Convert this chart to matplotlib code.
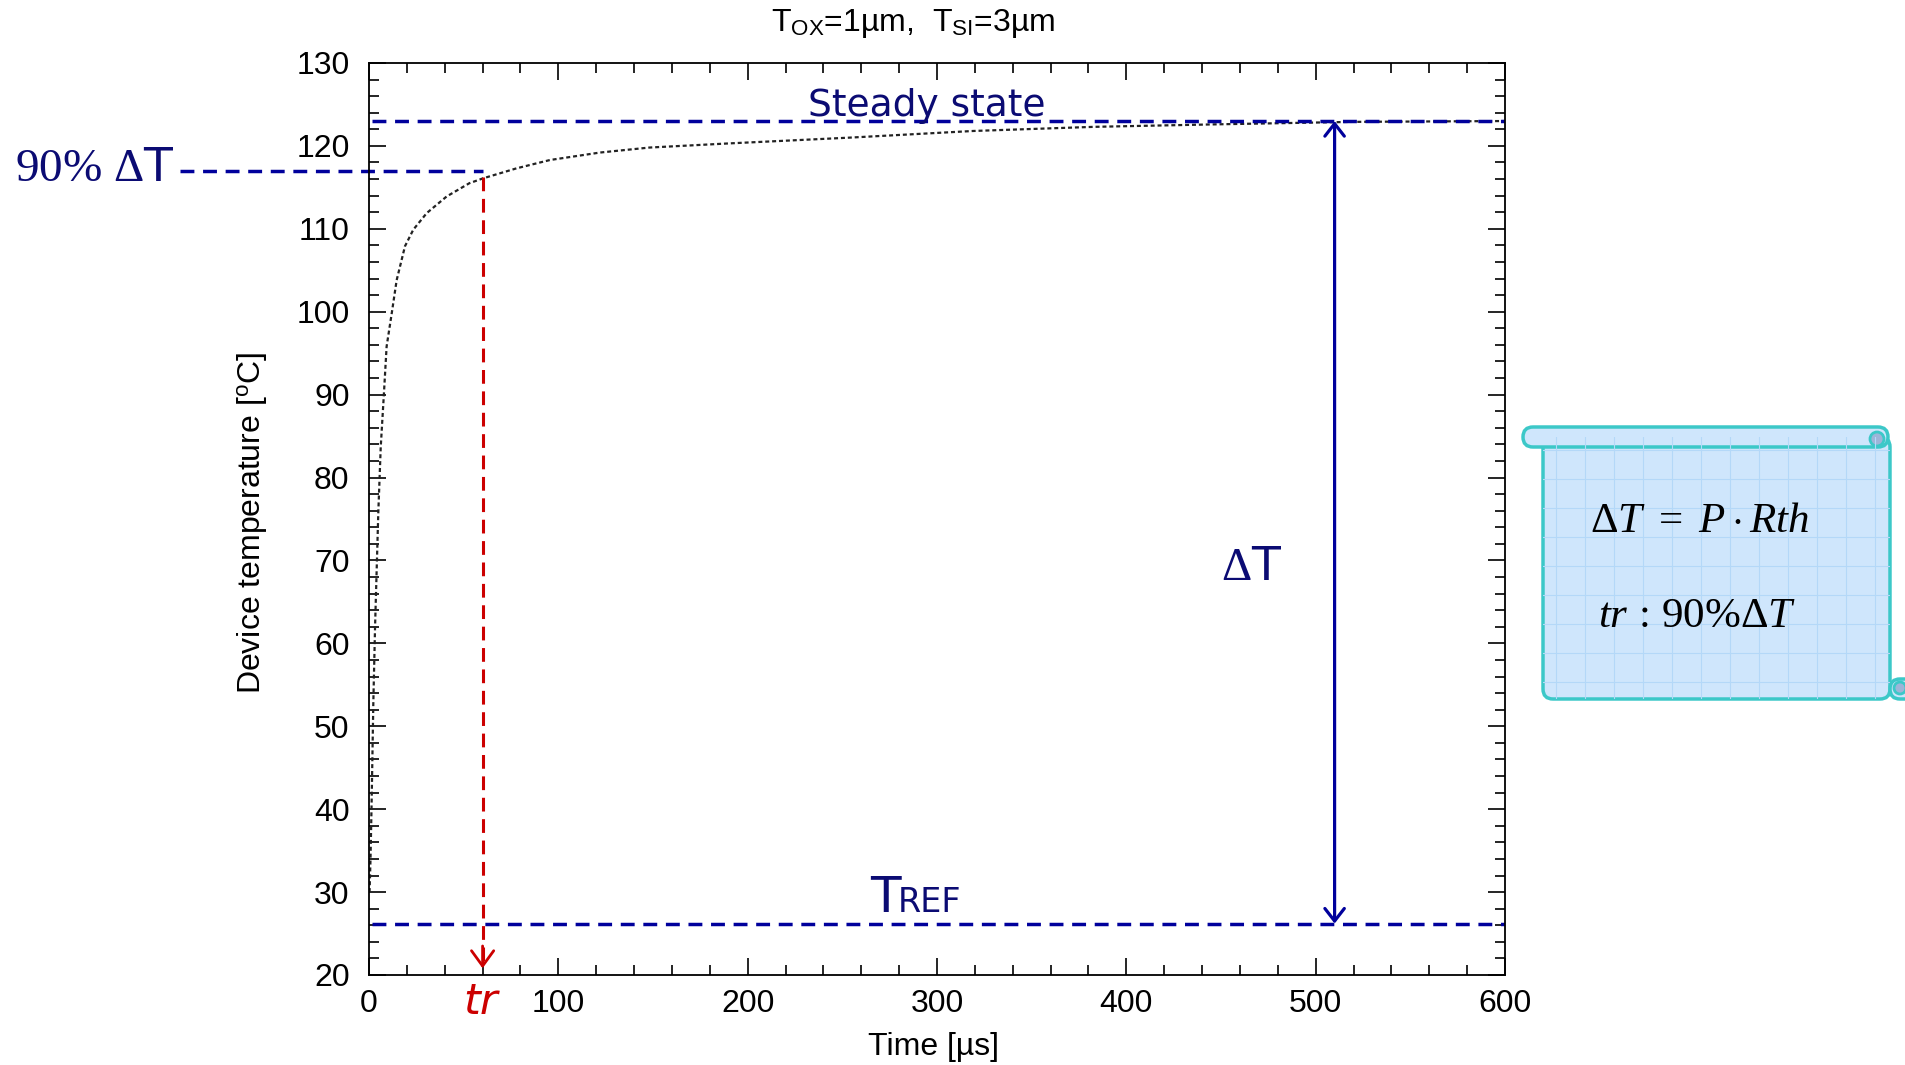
import matplotlib.pyplot as plt
from matplotlib.patches import FancyBboxPatch, Circle
from matplotlib.ticker import MultipleLocator

# simulated transient
time_us = [0.3, 0.8, 1.4, 2.3, 3.2, 4.9, 6.2, 7.9, 9.3, 12, 14.6, 19, 23.4, 30.5,
           41, 53, 60.4, 78, 95.6, 122, 148, 190, 254, 319, 383, 447, 520, 600]
temp_c = [30, 34, 41, 53, 62, 75.7, 83.7, 90.2, 95.8, 99.8, 103.8, 107.9, 109.9, 111.9,
          113.9, 115.5, 116.1, 117.3, 118.3, 119.2, 119.8, 120.3, 121.0, 121.8,
          122.3, 122.6, 122.9, 123.0]

T_STEADY = 123.0
T_REF = 26.2
T_90 = 117.0
TR = 60.0

plt.rcParams['font.family'] = ['Liberation Sans', 'DejaVu Sans']
plt.rcParams['mathtext.fontset'] = 'custom'
plt.rcParams['mathtext.rm'] = 'Liberation Serif'
plt.rcParams['mathtext.it'] = 'Liberation Serif:italic'
plt.rcParams['mathtext.sf'] = 'DejaVu Sans'

NAVY = '#0B0B73'
DASH_BLUE = '#00009C'
RED = '#CC0000'

fig = plt.figure(figsize=(19.05, 10.65), dpi=100)
ax = fig.add_axes([369 / 1905, 1 - 975 / 1065, (1505 - 369) / 1905, (975 - 63) / 1065])

ax.plot(time_us, temp_c, color='#222222', lw=1.6, linestyle=(0, (1.8, 1.3)))

ax.set_xlim(0, 600)
ax.set_ylim(20, 130)
ax.xaxis.set_major_locator(MultipleLocator(100))
ax.xaxis.set_minor_locator(MultipleLocator(20))
ax.yaxis.set_major_locator(MultipleLocator(10))
ax.yaxis.set_minor_locator(MultipleLocator(2))
ax.tick_params(which='both', direction='in', top=True, right=True, width=1.2)
ax.tick_params(which='major', length=12, labelsize=23)
ax.tick_params(which='minor', length=7)
ax.tick_params(axis='x', pad=10)
ax.tick_params(axis='y', pad=14)
for s in ax.spines.values():
    s.set_linewidth(1.3)

fig.text(913 / 1905, 1 - 24 / 1065, r'T$_{\mathregular{OX}}$=1µm,  T$_{\mathregular{SI}}$=3µm',
         ha='center', va='center', fontsize=23)
fig.text(252 / 1905, 1 - 523 / 1065, r'Device temperature [$^{\mathregular{o}}$C]',
         rotation=90, ha='center', va='center', fontsize=23)
fig.text(933 / 1905, 1 - 1047 / 1065, 'Time [µs]', ha='center', va='center', fontsize=23)

# reference lines
dash = (0, (4, 2.5))
ax.plot([1.5, 600], [T_STEADY, T_STEADY], color=DASH_BLUE, lw=2.5, linestyle=dash)
ax.plot([1.5, 600], [T_REF, T_REF], color=DASH_BLUE, lw=2.5, linestyle=dash)
ax.plot([-100, TR], [T_90, T_90], color=DASH_BLUE, lw=2.5, linestyle=dash, clip_on=False)
ax.plot([TR, TR], [T_90 - 0.8, 21.5], color=RED, lw=2.2, linestyle=(0, (4.5, 2.5)))
ax.annotate('', xy=(TR, 20.8), xytext=(TR, 23.5),
            arrowprops=dict(arrowstyle='->, head_length=0.55, head_width=0.4', color=RED,
                            lw=2, shrinkA=0, shrinkB=0, mutation_scale=20))
ax.annotate('', xy=(510, T_STEADY), xytext=(510, T_REF),
            arrowprops=dict(arrowstyle='<->, head_length=0.45, head_width=0.35', color=DASH_BLUE,
                            lw=2.3, shrinkA=0, shrinkB=0, mutation_scale=20))

ax.text(232, 123.6, 'Steady state', color=NAVY, fontsize=27, family='DejaVu Sans',
        ha='left', va='baseline')
ax.text(264.6, 27.6, 'T', color=NAVY, fontsize=36, family='DejaVu Sans', ha='left', va='baseline')
ax.text(279.5, 27.6, 'REF', color=NAVY, fontsize=24, family='DejaVu Sans', ha='left', va='baseline')
ax.text(466, 69.0, r'Δ$\mathsf{T}$', color=NAVY, fontsize=34, family='Liberation Serif',
        ha='center', va='center')
ax.text(TR - 1, 16.8, 'tr', color=RED, fontsize=31, family='DejaVu Sans', style='italic',
        ha='center', va='center', clip_on=False)
fig.text(15 / 1905, 1 - 181 / 1065, r'90% Δ$\mathsf{T}$', color=NAVY, fontsize=34,
         family='Liberation Serif', ha='left', va='baseline')

# scroll note, drawn in pixel coordinates
ov = fig.add_axes([0, 0, 1, 1])
ov.set_xlim(0, 1905)
ov.set_ylim(1065, 0)
ov.axis('off')
TEAL = '#3CC8C8'
PAPER = '#CFE6FC'
body = FancyBboxPatch((1543, 437), 347, 262, boxstyle='round,pad=0,rounding_size=10',
                      fc=PAPER, ec=TEAL, lw=2.5)
ov.add_patch(body)
for gx in range(1556, 1890, 29):
    ln, = ov.plot([gx, gx], [437, 699], color='#B4D8F8', lw=0.8)
    ln.set_clip_path(body)
for gy in range(450, 699, 29):
    ln, = ov.plot([1543, 1890], [gy, gy], color='#B4D8F8', lw=0.8)
    ln.set_clip_path(body)
ov.add_patch(FancyBboxPatch((1523, 427), 365, 20, boxstyle='round,pad=0,rounding_size=10',
                            fc=PAPER, ec=TEAL, lw=2.5))
ov.add_patch(Circle((1877, 439), 7, fc='#9DB5D8', ec=TEAL, lw=2))
ov.add_patch(FancyBboxPatch((1890, 679), 30, 20, boxstyle='round,pad=0,rounding_size=10',
                            fc=PAPER, ec=TEAL, lw=2.5))
ov.add_patch(Circle((1900, 688), 6, fc='#9DB5D8', ec=TEAL, lw=2))
ov.text(1700, 532, r'$\Delta T\ =\ P \cdot Rth$', fontsize=31, ha='center', va='baseline')
ov.text(1697, 627, r'$tr\,:\,90\%\Delta T$', fontsize=31, ha='center', va='baseline')

fig.savefig('out.png', dpi=100)
